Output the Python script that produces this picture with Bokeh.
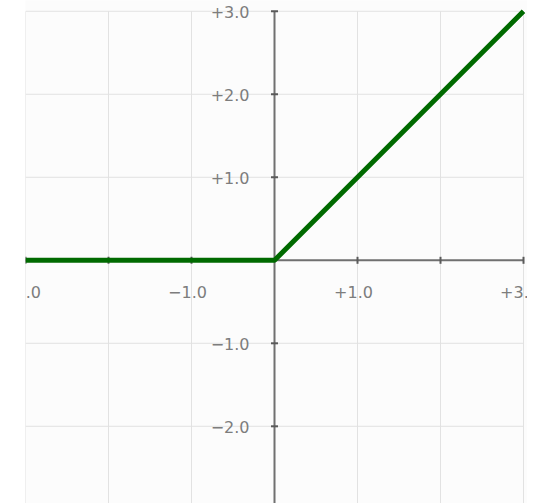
import math
from bokeh.plotting import figure
from bokeh.models import Range1d, ColumnDataSource
from bokeh.core.properties import value
from bokeh.embed import file_html
from bokeh.resources import INLINE

# ReLU curve points
relu_x = [-3.0, 0.0, 3.0]
relu_y = [0.0, 0.0, 3.0]

# extent of the drawn grid / axes
grid_lo = -3
grid_hi = 3

# grid / tick positions
grid_ticks = [-3, -2, -1, 0, 1, 2, 3]
x_tick_marks = [-3, -2, -1, 1, 2, 3]
y_tick_marks = [-2, -1, 1, 2, 3]

# tick labels
x_label_pos = [-3, -1, 1, 3]
x_label_text = ["\u22123.0", "\u22121.0", "+1.0", "+3.0"]
y_label_pos = [3, 2, 1, -1, -2]
y_label_text = ["+3.0", "+2.0", "+1.0", "\u22121.0", "\u22122.0"]

p = figure(width=527, height=503, output_backend="svg", toolbar_location=None,
           x_range=Range1d(-3.0, 3.048), y_range=Range1d(-2.93, 3.13),
           min_border_left=25, min_border_right=0, min_border_top=0, min_border_bottom=0,
           background_fill_color="#fcfcfc", border_fill_color="#ffffff")
p.outline_line_color = None
p.xaxis.visible = False
p.yaxis.visible = False
p.xgrid.visible = False
p.ygrid.visible = False

n = len(grid_ticks)
# vertical grid lines
p.segment(x0=grid_ticks, y0=[grid_lo] * n, x1=grid_ticks, y1=[grid_hi] * n,
          line_color="#e2e2e2", line_width=1)
# horizontal grid lines
p.segment(x0=[grid_lo] * n, y0=grid_ticks, x1=[grid_hi] * n, y1=grid_ticks,
          line_color="#e2e2e2", line_width=1)

# axes through the origin
p.segment(x0=[grid_lo, 0], y0=[0, grid_lo], x1=[grid_hi, 0], y1=[0, grid_hi],
          line_color="#707070", line_width=2)

# tick marks
p.scatter(x=x_tick_marks, y=[0] * len(x_tick_marks), marker="dash", angle=math.pi / 2,
          size=7, line_color="#5a5a5a", line_width=2)
p.scatter(x=[0] * len(y_tick_marks), y=y_tick_marks, marker="dash",
          size=7, line_color="#5a5a5a", line_width=2)

# ReLU line
p.line(relu_x, relu_y, line_color="#006a00", line_width=5, line_join="round")

# tick labels
xs = ColumnDataSource(dict(x=x_label_pos, y=[0] * len(x_label_pos), t=x_label_text))
p.text(x="x", y="y", text="t", source=xs, text_align="center", text_baseline="middle",
       x_offset=-4, y_offset=32, text_font=value("DejaVu Sans"), text_font_size="16px",
       text_color="#7d7d7d")
ys = ColumnDataSource(dict(x=[0] * len(y_label_pos), y=y_label_pos, t=y_label_text))
p.text(x="x", y="y", text="t", source=ys, text_align="right", text_baseline="middle",
       x_offset=-25, y_offset=1, text_font=value("DejaVu Sans"), text_font_size="16px",
       text_color="#7d7d7d")

open("out.html", "w").write(file_html(p, INLINE))
